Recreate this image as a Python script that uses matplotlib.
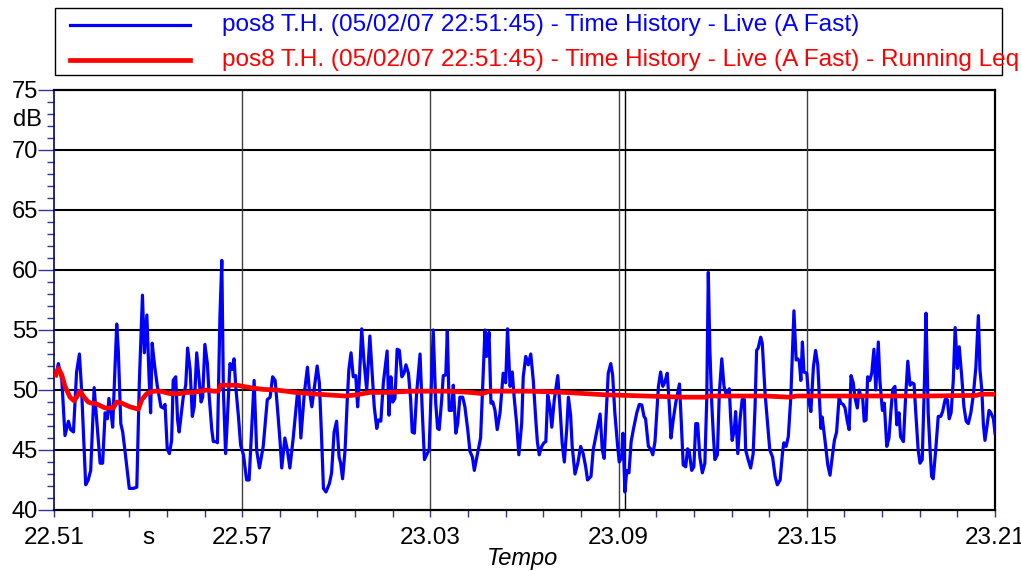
import matplotlib
matplotlib.use("Agg")
import matplotlib.pyplot as plt
from matplotlib.patches import Rectangle
from matplotlib.lines import Line2D
from matplotlib.ticker import MultipleLocator

plt.rcParams['font.family'] = ['Liberation Sans', 'DejaVu Sans']

# time in seconds from 22:51, level in dB
live_t = [0.06, 0.14, 0.25, 0.35, 0.46, 0.53, 0.62, 0.72, 0.81, 0.88, 1.01, 1.09, 1.17, 1.28, 1.36,
          1.47, 1.55, 1.63, 1.70, 1.75, 1.82, 1.87, 2.00, 2.05, 2.13, 2.19, 2.26, 2.40, 2.53, 2.64,
          2.72, 2.82, 2.88, 2.96, 3.03, 3.08, 3.13, 3.20, 3.29, 3.41, 3.48, 3.54, 3.61, 3.68, 3.75,
          3.80, 3.88, 3.94, 3.99, 4.12, 4.20, 4.26, 4.34, 4.41, 4.47, 4.55, 4.62, 4.69, 4.74, 4.81,
          4.89, 4.95, 5.03, 5.08, 5.16, 5.21, 5.29, 5.35, 5.40, 5.47, 5.52, 5.61, 5.67, 5.74, 5.80,
          5.88, 5.95, 6.04, 6.14, 6.22, 6.30, 6.38, 6.46, 6.55, 6.67, 6.80, 6.89, 6.97, 7.05, 7.13,
          7.21, 7.26, 7.36, 7.44, 7.52, 7.63, 7.76, 7.81, 7.87, 7.98, 8.08, 8.14, 8.22, 8.32, 8.39,
          8.46, 8.53, 8.59, 8.67, 8.78, 8.85, 8.93, 9.01, 9.09, 9.14, 9.20, 9.28, 9.35, 9.40, 9.47,
          9.54, 9.62, 9.68, 9.73, 9.81, 9.88, 9.97, 10.07, 10.15, 10.21, 10.29, 10.34, 10.42, 10.50,
          10.55, 10.62, 10.68, 10.74, 10.80, 10.87, 10.94, 11.01, 11.09, 11.16, 11.22, 11.30, 11.37,
          11.42, 11.49, 11.56, 11.67, 11.74, 11.81, 11.88, 11.96, 12.02, 12.09, 12.17, 12.23, 12.28,
          12.36, 12.41, 12.49, 12.54, 12.60, 12.68, 12.73, 12.81, 12.87, 12.94, 13.03, 13.10, 13.19,
          13.26, 13.34, 13.40, 13.48, 13.60, 13.67, 13.74, 13.79, 13.87, 13.93, 13.99, 14.06, 14.13,
          14.22, 14.32, 14.40, 14.46, 14.54, 14.61, 14.67, 14.75, 14.82, 14.91, 14.96, 15.04, 15.12,
          15.20, 15.28, 15.36, 15.41, 15.47, 15.55, 15.62, 15.68, 15.74, 15.81, 15.87, 15.95, 16.06,
          16.13, 16.20, 16.27, 16.35, 16.40, 16.47, 16.52, 16.61, 16.70, 16.79, 16.87, 16.95, 17.01,
          17.12, 17.19, 17.30, 17.41, 17.48, 17.54, 17.60, 17.67, 17.75, 17.81, 17.88, 17.96, 18.02,
          18.10, 18.14, 18.20, 18.26, 18.33, 18.40, 18.47, 18.58, 18.66, 18.74, 18.81, 18.86, 18.95,
          19.02, 19.09, 19.16, 19.27, 19.34, 19.41, 19.48, 19.55, 19.62, 19.67, 19.74, 19.82, 19.88,
          19.94, 19.99, 20.06, 20.14, 20.20, 20.25, 20.33, 20.40, 20.46, 20.52, 20.59, 20.67, 20.75,
          20.81, 20.86, 20.91, 20.97, 21.02, 21.07, 21.15, 21.21, 21.29, 21.36, 21.42, 21.48, 21.53,
          21.57, 21.62, 21.69, 21.73, 21.80, 21.87, 21.94, 22.01, 22.05, 22.13, 22.21, 22.29, 22.35,
          22.40, 22.45, 22.53, 22.58, 22.67, 22.74, 22.82, 22.91, 22.99, 23.06, 23.15, 23.23, 23.27,
          23.34, 23.41, 23.49, 23.59, 23.66, 23.71, 23.76, 23.81, 23.86, 23.91, 24.00, 24.07, 24.13,
          24.21, 24.28, 24.35, 24.40, 24.45, 24.49, 24.58, 24.67, 24.74, 24.81, 24.88, 24.95, 25.03,
          25.09, 25.16, 25.22, 25.29, 25.35, 25.41, 25.48, 25.54, 25.61, 25.67, 25.73, 25.78, 25.83,
          25.89, 25.94, 26.01, 26.07, 26.14, 26.20, 26.28, 26.33, 26.41, 26.47, 26.55, 26.62, 26.68,
          26.74, 26.81, 26.87, 26.94, 26.99, 27.08, 27.15, 27.22, 27.29, 27.36, 27.42, 27.47, 27.55,
          27.61, 27.68, 27.75, 27.80, 27.87, 27.93, 27.98, 28.03, 28.11, 28.19, 28.27, 28.33, 28.41,
          28.48, 28.54, 28.60, 28.67, 28.73, 28.80, 28.86, 28.94, 29.01, 29.08, 29.15, 29.23, 29.31,
          29.39, 29.47, 29.52, 29.58, 29.63, 29.68, 29.74, 29.81, 29.87, 29.95, 30.00]
live_db = [51.25, 52.2, 50.8, 46.2, 47.4, 46.7, 46.5, 51.5, 53.0, 50.0, 42.1, 42.5, 43.3, 50.2, 47.5,
           43.9, 43.9, 48.1, 47.6, 49.3, 48.1, 46.9, 55.5, 53.3, 47.2, 46.5, 45.0, 41.8, 41.8, 41.9,
           50.6, 57.9, 53.1, 56.25, 51.1, 48.1, 53.9, 52.2, 50.4, 48.6, 48.5, 48.8, 45.1, 44.7, 45.8,
           50.8, 51.1, 47.5, 46.5, 49.4, 50.4, 53.5, 51.7, 47.8, 48.6, 53.1, 51.1, 49.0, 49.4, 53.8,
           52.2, 49.4, 46.7, 45.7, 45.7, 45.6, 56.1, 60.8, 50.0, 44.7, 47.2, 52.2, 51.7, 52.6, 50.1,
           47.8, 45.4, 44.6, 42.5, 42.5, 46.7, 50.8, 45.0, 43.5, 45.3, 49.2, 49.4, 51.1, 50.8, 48.3,
           45.6, 43.5, 46.0, 45.0, 43.5, 46.1, 49.7, 49.7, 46.0, 49.7, 51.9, 50.0, 48.6, 50.6, 52.0,
           50.6, 46.1, 41.8, 41.5, 42.2, 43.1, 46.5, 47.4, 44.4, 43.9, 42.6, 45.0, 49.2, 51.7, 53.1,
           51.1, 51.2, 48.6, 50.6, 55.1, 52.5, 50.0, 54.5, 51.1, 48.6, 46.8, 47.5, 47.4, 50.6,
           51.7, 53.25, 47.9, 51.1, 49.0, 49.3, 53.4, 53.3, 51.1, 51.4, 52.1, 51.4, 49.2,
           46.5, 46.4, 49.7, 53.0, 48.3, 44.2, 44.6, 45.0, 49.7, 55.0, 48.9, 46.8, 46.7,
           49.2, 51.2, 51.25, 54.9, 48.3, 48.3, 50.4, 46.4, 47.2, 49.4, 49.4, 48.6, 46.7,
           44.9, 44.4, 43.3, 44.4, 46.0, 50.6, 55.0, 52.8, 54.8, 48.9, 49.0, 48.3, 46.7,
           48.1, 51.4, 50.6, 55.1, 50.3, 51.5, 49.4, 47.2, 44.6, 47.2, 51.1, 52.8, 52.1,
           53.0, 50.8, 47.5, 45.7, 44.6, 45.3, 45.6, 45.7, 49.6, 48.6, 46.9, 49.2, 51.2,
           48.6, 45.6, 44.0, 46.9, 49.4, 47.9, 45.3, 43.0, 43.9, 45.3, 44.7, 43.6, 42.5,
           42.8, 45.0, 46.5, 48.0, 45.0, 44.3, 47.8, 51.4, 52.2, 51.25, 48.1, 45.6, 44.0,
           44.4, 46.4, 41.5, 43.3, 43.1, 45.7, 46.7, 48.1, 48.8, 48.75, 47.8, 47.6, 45.3,
           45.1, 44.6, 45.7, 50.3, 51.5, 50.3, 50.7, 51.4, 48.6, 46.0, 47.5, 48.9, 49.7,
           50.5, 47.8, 43.75, 43.6, 45.1, 44.9, 43.3, 43.6, 47.2, 47.2, 44.4, 43.1, 43.9,
           49.2, 59.8, 53.3, 48.9, 46.25, 44.2, 44.6, 49.7, 52.6, 50.3, 49.7, 49.7, 50.1,
           47.8, 45.8, 46.7, 48.2, 44.7, 47.5, 49.2, 49.2, 45.0, 44.2, 43.5, 44.7, 48.6,
           53.3, 53.5, 54.4, 53.9, 49.7, 47.5, 45.0, 44.4, 42.8, 42.1, 42.5, 44.9, 45.6,
           45.3, 46.1, 49.4, 56.6, 52.5, 52.6, 52.4, 50.8, 54.0, 51.5, 51.4, 49.0, 48.2,
           51.9, 53.3, 52.1, 49.4, 46.8, 47.75, 45.8, 43.75, 42.9, 44.4, 45.8, 46.5, 49.4,
           48.9, 48.8, 48.5, 47.4, 46.7, 51.2, 50.6, 49.3, 48.5, 50.0, 49.4, 49.4, 47.4,
           47.5, 51.1, 50.8, 51.4, 53.4, 50.0, 54.0, 50.8, 48.3, 48.9, 45.3, 46.0, 48.2,
           50.05, 50.3, 47.1, 48.1, 46.1, 45.7, 49.4, 52.4, 50.4, 50.6, 50.5, 48.3, 45.0,
           43.9, 44.2, 50.6, 56.4, 48.1, 45.0, 42.8, 42.6, 45.0, 47.8, 47.8, 48.2, 49.2,
           49.2, 47.6, 48.1, 50.8, 55.2, 51.8, 53.6, 51.1, 48.6, 47.4, 47.2, 48.1, 49.6,
           51.9, 56.2, 51.7, 50.0, 47.1, 45.8, 46.9, 48.3, 48.1, 47.6, 46.4]

leq_t = [0.06, 0.14, 0.25, 0.35, 0.51, 0.64, 0.72, 0.83, 0.93, 1.09, 1.20, 1.31, 1.47, 1.63, 1.89,
         2.00, 2.16, 2.42, 2.69, 2.80, 2.96, 3.17, 3.38, 3.70, 4.02, 4.23, 4.44, 4.65, 4.87, 5.08,
         5.24, 5.31, 5.51, 5.82, 6.25, 6.67, 7.10, 7.68, 8.16, 8.69, 9.28, 9.65, 10.07, 10.71,
         11.35, 11.99, 12.62, 13.26, 13.64, 13.90, 14.54, 15.18, 16.29, 17.57, 18.84, 20.12,
         20.75, 20.88, 21.61, 22.67, 23.46, 23.68, 25.70, 27.82, 29.42, 29.52, 30.00]
leq_db = [51.25, 51.8, 51.25, 50.3, 49.4, 49.1, 49.4, 49.9, 49.5, 49.0, 48.9, 48.9, 48.7, 48.5, 48.5,
          49.0, 48.9, 48.6, 48.4, 49.2, 49.7, 49.9, 49.9, 49.7, 49.7, 49.8, 49.8, 49.9, 50.0, 49.9,
          49.9, 50.4, 50.4, 50.4, 50.2, 50.05, 50.0, 49.8, 49.7, 49.6, 49.5, 49.6, 49.8, 49.8,
          49.9, 49.9, 49.9, 49.8, 49.7, 49.9, 49.9, 49.9, 49.8, 49.6, 49.5, 49.4,
          49.4, 49.5, 49.5, 49.5, 49.4, 49.5, 49.5, 49.5, 49.55, 49.65, 49.65]

tick_pos = [0, 6, 12, 18, 24, 30]
tick_labels = ['22.51', '22.57', '23.03', '23.09', '23.15', '23.21']
cursor_t = 18.2

live_label = 'pos8 T.H. (05/02/07 22:51:45) - Time History - Live (A Fast)'
leq_label = live_label + ' - Running Leq'

fig = plt.figure(figsize=(10.21, 5.71), dpi=100)
ax = fig.add_axes([54 / 1021, 1 - 510 / 571, 941 / 1021, 420 / 571])

ax.plot(live_t, live_db, color='#0000ff', lw=2.3, zorder=3)
ax.plot(leq_t, leq_db, color='#ff0000', lw=3.4, zorder=4)

ax.set_xlim(0, 30)
ax.set_ylim(40, 75)

# grid
for y in range(45, 75, 5):
    ax.axhline(y, color='black', lw=1.5, zorder=1)
for x in tick_pos[1:-1]:
    ax.axvline(x, color='#404040', lw=1.0, zorder=1)
ax.axvline(cursor_t, color='black', lw=1.0, zorder=1)

for side in ['top', 'right', 'bottom']:
    ax.spines[side].set_color('black')
    ax.spines[side].set_linewidth(1.6)
ax.spines['left'].set_color('#000080')
ax.spines['left'].set_linewidth(1.2)

ax.set_xticks(tick_pos)
ax.set_xticklabels(tick_labels)
ax.xaxis.set_minor_locator(MultipleLocator(1.2))
ax.yaxis.set_major_locator(MultipleLocator(5))
ax.yaxis.set_minor_locator(MultipleLocator(1))
ax.tick_params(axis='x', which='both', direction='out', length=5, width=1, color='#3333a0',
               labelsize=17.5, pad=7)
ax.tick_params(axis='y', which='major', direction='out', length=11.5, width=1, color='#3333a0',
               labelsize=17, pad=0)
ax.tick_params(axis='y', which='minor', direction='out', length=5, width=1, color='#3333a0')

ax.text(-0.4, 72.5, 'dB', ha='right', va='center', fontsize=17)
fig.text(148 / 1021, 1 - 538 / 571, 's', ha='center', va='center', fontsize=17.5)
fig.text(522 / 1021, 1 - 559 / 571, 'Tempo', ha='center', va='center', fontsize=17, style='italic')

# legend box
fig.add_artist(Rectangle((55 / 1021, 1 - 75 / 571), 947 / 1021, 67 / 571, transform=fig.transFigure,
                         fill=False, edgecolor='black', lw=1.0))
for y_px, col, lw, label in [(25, '#0000ff', 2.3, live_label), (60, '#ff0000', 3.4, leq_label)]:
    yf = 1 - y_px / 571
    fig.add_artist(Line2D([70 / 1021, 190 / 1021], [yf, yf], transform=fig.transFigure,
                          color=col, lw=lw))
    fig.text(222 / 1021, yf, label, color=col, ha='left', va='center', fontsize=17.6)

fig.savefig('out.png', dpi=100)
